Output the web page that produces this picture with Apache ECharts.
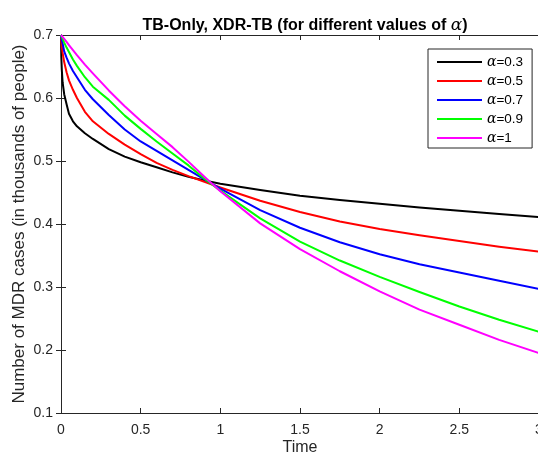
<!DOCTYPE html>
<html>
<head>
<meta charset="utf-8">
<script src="https://cdn.jsdelivr.net/npm/echarts@6/dist/echarts.min.js"></script>
<style>html,body{margin:0;padding:0;background:#fff;}#c{width:538px;height:459px;}</style>
</head>
<body>
<div id="c"></div>
<script>
var times = [0, 0.002, 0.005, 0.01, 0.02, 0.035, 0.05, 0.075, 0.1, 0.15, 0.2, 0.3, 0.4, 0.5, 0.6, 0.7, 0.8, 0.9, 1.0, 1.25, 1.5, 1.75, 2.0, 2.25, 2.5, 2.75, 3.0];
var alpha03 = [0.700, 0.665, 0.645, 0.625, 0.606, 0.590, 0.575, 0.563, 0.555, 0.544, 0.535, 0.519, 0.507, 0.498, 0.490, 0.482, 0.475, 0.469, 0.464, 0.454, 0.445, 0.438, 0.432, 0.426, 0.421, 0.416, 0.411];
var alpha05 = [0.700, 0.689, 0.681, 0.672, 0.657, 0.641, 0.628, 0.613, 0.600, 0.578, 0.563, 0.543, 0.526, 0.511, 0.497, 0.486, 0.476, 0.467, 0.458, 0.437, 0.419, 0.404, 0.392, 0.382, 0.373, 0.364, 0.356];
var alpha07 = [0.700, 0.696, 0.692, 0.687, 0.674, 0.664, 0.655, 0.643, 0.633, 0.613, 0.598, 0.573, 0.550, 0.531, 0.516, 0.501, 0.486, 0.471, 0.456, 0.422, 0.394, 0.371, 0.352, 0.336, 0.323, 0.310, 0.297];
var alpha09 = [0.700, 0.699, 0.697, 0.694, 0.688, 0.680, 0.673, 0.661, 0.651, 0.633, 0.618, 0.597, 0.572, 0.551, 0.531, 0.512, 0.493, 0.472, 0.453, 0.409, 0.372, 0.342, 0.316, 0.292, 0.269, 0.248, 0.229];
var alpha10 = [0.700, 0.700, 0.699, 0.697, 0.694, 0.689, 0.684, 0.676, 0.668, 0.653, 0.639, 0.612, 0.587, 0.564, 0.543, 0.522, 0.499, 0.475, 0.452, 0.401, 0.360, 0.325, 0.293, 0.264, 0.240, 0.216, 0.195];
var seriesNames = ['α=0.3', 'α=0.5', 'α=0.7', 'α=0.9', 'α=1'];
var seriesColors = ['#000000', '#ff0000', '#0000ff', '#00ff00', '#ff00ff'];
var xTicks = [0, 0.5, 1, 1.5, 2, 2.5, 3];
var yTicks = [0.1, 0.2, 0.3, 0.4, 0.5, 0.6, 0.7];

var allValues = [alpha03, alpha05, alpha07, alpha09, alpha10];
var chart = echarts.init(document.getElementById('c'), null, {renderer: 'canvas'});
var axisColor = '#262626';
var font = 'Liberation Sans, Arial, Helvetica, sans-serif';

function pairs(vals) {
  return times.map(function (t, i) { return [t, vals[i]]; });
}

var series = allValues.map(function (vals, i) {
  return {
    name: seriesNames[i],
    type: 'line',
    data: pairs(vals),
    showSymbol: false,
    symbol: 'none',
    smooth: false,
    lineStyle: {color: seriesColors[i], width: 2, join: 'round'},
    itemStyle: {color: seriesColors[i]},
    xAxisIndex: 0,
    yAxisIndex: 0,
    animation: false,
    z: 3
  };
});

var commonAxisLine = {show: true, lineStyle: {color: axisColor, width: 1}};
var commonTick = {show: true, inside: true, length: 5, lineStyle: {color: axisColor, width: 1}};

chart.setOption({
  animation: false,
  backgroundColor: '#ffffff',
  title: {
    text: 'TB-Only, XDR-TB (for different values of {a|α})',
    left: 300,
    top: 12,
    textAlign: 'center',
    textStyle: {
      fontFamily: font, fontSize: 16, fontWeight: 'bold', color: '#000',
      rich: {a: {fontFamily: 'DejaVu Serif, Liberation Serif, serif', fontStyle: 'italic', fontSize: 17, fontWeight: 'normal', color: '#000'}}
    }
  },
  legend: {
    data: seriesNames,
    orient: 'vertical',
    left: 428,
    top: 49,
    icon: 'rect',
    itemWidth: 45,
    itemHeight: 2,
    itemGap: 5,
    itemTextGap: 4,
    padding: [6, 9, 3, 9],
    backgroundColor: '#ffffff',
    borderColor: axisColor,
    borderWidth: 1,
    borderRadius: 0,
    selectedMode: false,
    formatter: function (name) {
      return '{a|α}{b|' + name.slice(1) + '}';
    },
    textStyle: {
      fontFamily: font, fontSize: 13, color: '#000', lineHeight: 14,
      rich: {
        a: {fontFamily: 'DejaVu Serif, Liberation Serif, serif', fontStyle: 'italic', fontSize: 14, color: '#000', lineHeight: 14},
        b: {fontFamily: font, fontSize: 13.5, color: '#000', lineHeight: 14}
      }
    }
  },
  grid: {left: 61, top: 35, width: 478, height: 378, containLabel: false, outerBoundsMode: 'none'},
  xAxis: [{
    type: 'value', min: 0, max: 3, interval: 0.5, position: 'bottom',
    name: 'Time', nameLocation: 'middle', nameGap: 27, nameMoveOverlap: false,
    nameTextStyle: {fontFamily: font, fontSize: 16, color: axisColor},
    axisLine: commonAxisLine, axisTick: commonTick,
    axisLabel: {fontFamily: font, fontSize: 14, color: axisColor, margin: 10, hideOverlap: false,
      formatter: function (v) { return xTicks.indexOf(v) >= 0 ? String(v) : ''; }},
    splitLine: {show: false}
  }, {
    type: 'value', min: 0, max: 3, interval: 0.5, position: 'top',
    axisLine: commonAxisLine, axisTick: commonTick, axisLabel: {show: false}, splitLine: {show: false}
  }],
  yAxis: [{
    type: 'value', min: 0.1, max: 0.7, interval: 0.1, position: 'left',
    name: 'Number of MDR cases (in thousands of people)', nameLocation: 'middle', nameGap: 33, nameMoveOverlap: false,
    nameTextStyle: {fontFamily: font, fontSize: 17, color: axisColor},
    axisLine: commonAxisLine, axisTick: commonTick,
    axisLabel: {fontFamily: font, fontSize: 14, color: axisColor, margin: 8,
      formatter: function (v) { var r = Math.round(v * 10) / 10; return yTicks.indexOf(r) >= 0 ? r.toFixed(1) : ''; }},
    splitLine: {show: false}
  }, {
    type: 'value', min: 0.1, max: 0.7, interval: 0.1, position: 'right',
    axisLine: commonAxisLine, axisTick: commonTick, axisLabel: {show: false}, splitLine: {show: false}
  }],
  series: series
});
</script>
</body>
</html>
